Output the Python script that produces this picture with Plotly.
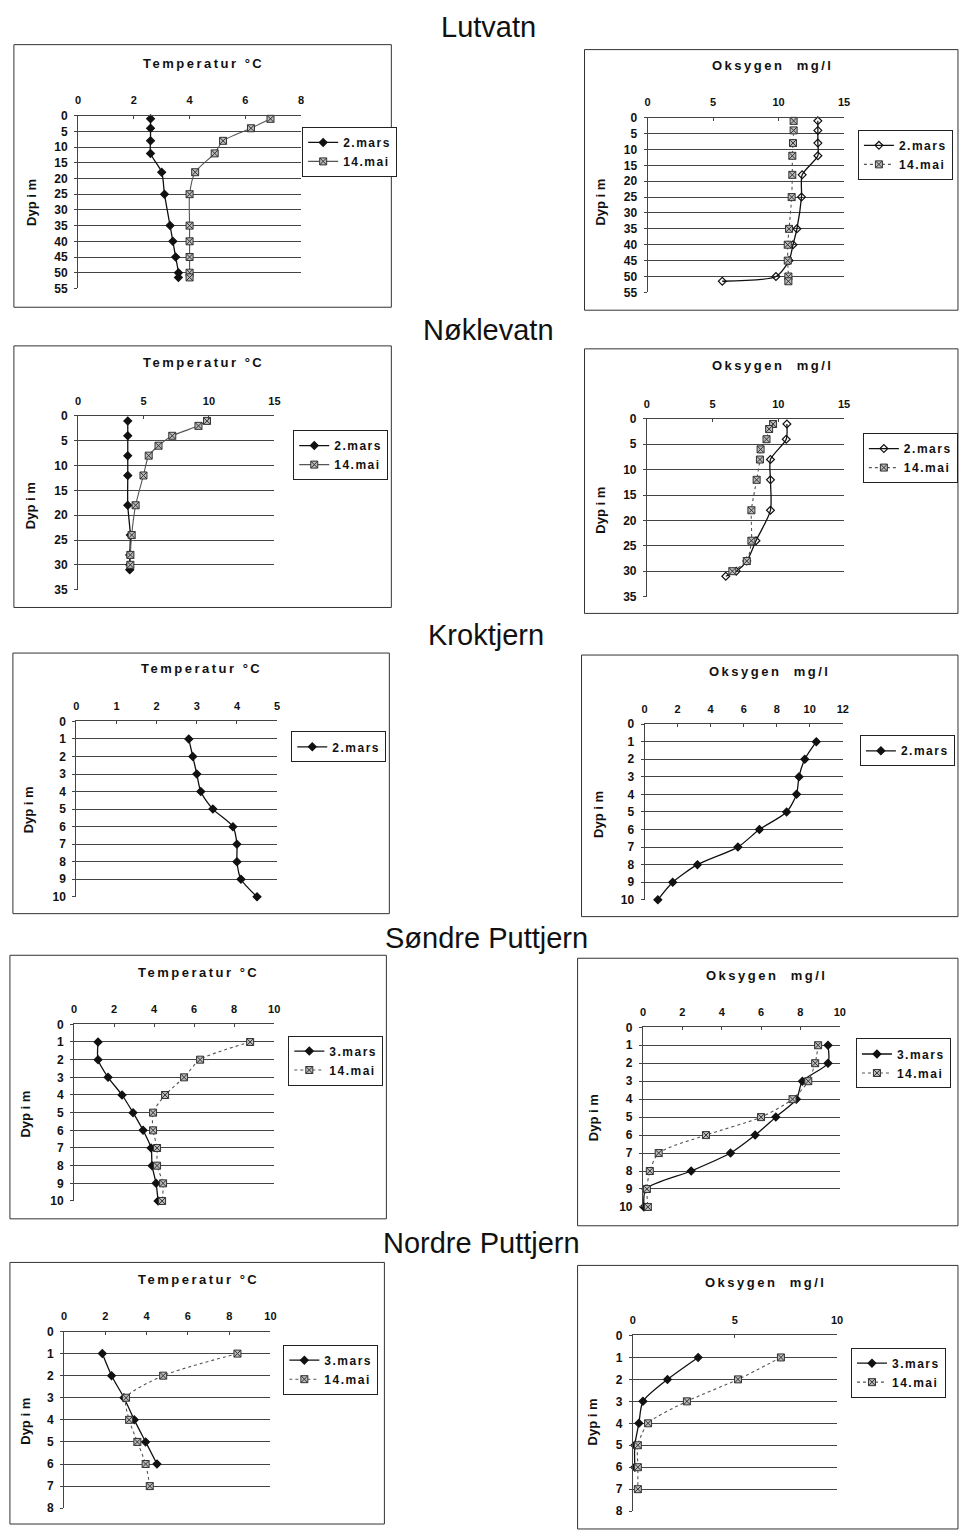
import plotly.graph_objects as go

W, H = 961, 1534

# ---------------- data ----------------
# Lutvatn
lut_depth = [1, 4, 8, 12, 18, 25, 35, 40, 45, 50, 51.5]
lut_temp_mar = [2.6, 2.6, 2.6, 2.6, 3.0, 3.1, 3.3, 3.4, 3.5, 3.6, 3.6]
lut_temp_mai = [6.9, 6.2, 5.2, 4.9, 4.2, 4.0, 4.0, 4.0, 4.0, 4.0, 4.0]
lut_oks_mar = [13.0, 13.0, 13.0, 13.0, 11.8, 11.75, 11.4, 11.1, 10.8, 9.8, 5.7]
lut_oks_mai = [11.15, 11.15, 11.1, 11.05, 11.05, 11.0, 10.8, 10.7, 10.7, 10.75, 10.75]

# Nøklevatn
nok_depth_mar = [1, 4, 8, 12, 18, 24, 28, 30, 31]
nok_depth_mai = [1, 2, 4, 6, 8, 12, 18, 24, 28, 30]
nok_temp_mar = [3.8, 3.8, 3.8, 3.8, 3.8, 4.0, 3.95, 3.95, 3.95]
nok_temp_mai = [9.85, 9.2, 7.2, 6.15, 5.4, 5.0, 4.4, 4.1, 4.0, 4.0]
nok_oks_mar = [10.65, 10.6, 9.4, 9.4, 9.4, 8.3, 7.6, 6.8, 6.0]
nok_oks_mai = [9.6, 9.3, 9.1, 8.65, 8.6, 8.35, 7.95, 7.95, 7.6, 6.5]

# Kroktjern
krok_depth = [1, 2, 3, 4, 5, 6, 7, 8, 9, 10]
krok_temp_mar = [2.8, 2.9, 3.0, 3.1, 3.4, 3.9, 4.0, 4.0, 4.1, 4.5]
krok_oks_mar = [10.4, 9.7, 9.35, 9.2, 8.6, 6.95, 5.65, 3.2, 1.7, 0.8]

# Søndre Puttjern
sond_depth = [1, 2, 3, 4, 5, 6, 7, 8, 9, 10]
sond_temp_mar = [1.2, 1.2, 1.7, 2.4, 2.95, 3.45, 3.85, 3.9, 4.1, 4.2]
sond_temp_mai = [8.8, 6.3, 5.5, 4.55, 3.95, 3.95, 4.15, 4.15, 4.45, 4.4]
sond_oks_mar = [9.4, 9.4, 8.1, 7.8, 6.75, 5.7, 4.45, 2.45, 0.15, 0.05]
sond_oks_mai = [8.9, 8.75, 8.4, 7.6, 6.0, 3.2, 0.8, 0.35, 0.2, 0.25]

# Nordre Puttjern
nord_depth_mar = [1, 2, 3, 4, 5, 6]
nord_depth_mai = [1, 2, 3, 4, 5, 6, 7]
nord_temp_mar = [1.85, 2.3, 2.9, 3.4, 3.95, 4.5]
nord_temp_mai = [8.4, 4.8, 3.0, 3.15, 3.55, 3.95, 4.15]
nord_oks_mar = [3.2, 1.7, 0.5, 0.3, 0.1, 0.1]
nord_oks_mai = [7.25, 5.15, 2.65, 0.75, 0.25, 0.25, 0.25]

section_titles = ["Lutvatn", "Nøklevatn", "Kroktjern", "Søndre Puttjern", "Nordre Puttjern"]
section_title_pos = [(490, 20.5), (490, 326), (488, 634), (488, 940), (483.5, 1247)]

TEMP_TITLE = "Temperatur °C"
OKS_TITLE = "Oksygen  mg/l"
YLABEL = "Dyp i m"

# ---------------- layout of panels (pixels) ----------------
panels = [
    dict(title=TEMP_TITLE, xr=8, xd=2, yr=55, yd=5, plot=(75.7, 109.7, 301, 284), box=(11, 38, 392, 303),
         leg=(302, 121), tpos=(202, 57), ylab=(28, 197), mar_open=False, mai_dash="solid",
         series=[("2.mars", lut_depth, lut_temp_mar), ("14.mai", lut_depth, lut_temp_mai)]),
    dict(title=OKS_TITLE, xr=15, xd=5, yr=55, yd=5, plot=(650.7, 111.7, 849, 288), box=(587, 43, 964, 306),
         leg=(863, 124), tpos=(777, 59), ylab=(603, 197), mar_open=True, mai_dash="dot",
         series=[("2.mars", lut_depth, lut_oks_mar), ("14.mai", lut_depth, lut_oks_mai)]),
    dict(title=TEMP_TITLE, xr=15, xd=5, yr=35, yd=5, plot=(75.7, 412.7, 274, 588), box=(11, 342, 392, 606),
         leg=(293, 427), tpos=(202, 359), ylab=(28, 503), mar_open=False, mai_dash="solid",
         series=[("2.mars", nok_depth_mar, nok_temp_mar), ("14.mai", nok_depth_mai, nok_temp_mai)]),
    dict(title=OKS_TITLE, xr=15, xd=5, yr=35, yd=5, plot=(650, 415.7, 849, 595), box=(587, 345, 964, 612),
         leg=(868, 430), tpos=(777, 362), ylab=(603, 508), mar_open=True, mai_dash="dot",
         series=[("2.mars", nok_depth_mar, nok_oks_mar), ("14.mai", nok_depth_mai, nok_oks_mai)]),
    dict(title=TEMP_TITLE, xr=5, xd=1, yr=10, yd=1, plot=(74, 721, 276.7, 898), box=(10, 652, 390, 915),
         leg=(291, 731), tpos=(200, 668), ylab=(26, 810), mar_open=False, mai_dash="solid",
         series=[("2.mars", krok_depth, krok_temp_mar)]),
    dict(title=OKS_TITLE, xr=12, xd=2, yr=10, yd=1, plot=(647.7, 723.7, 847.7, 901), box=(584, 654, 964, 918),
         leg=(865, 735), tpos=(774, 671), ylab=(601, 815), mar_open=False, mai_dash="dot",
         series=[("2.mars", krok_depth, krok_oks_mar)]),
    dict(title=TEMP_TITLE, xr=10, xd=2, yr=10, yd=1, plot=(71.7, 1026.7, 273.7, 1205), box=(7, 957, 387, 1223),
         leg=(288, 1038), tpos=(197, 974), ylab=(23, 1117), mar_open=False, mai_dash="dot",
         series=[("3.mars", sond_depth, sond_temp_mar), ("14.mai", sond_depth, sond_temp_mai)]),
    dict(title=OKS_TITLE, xr=10, xd=2, yr=10, yd=1, plot=(646, 1029.7, 844.7, 1211), box=(580, 960, 964, 1230),
         leg=(861, 1041), tpos=(771, 977), ylab=(596, 1121), mar_open=False, mai_dash="dot",
         series=[("3.mars", sond_depth, sond_oks_mar), ("14.mai", sond_depth, sond_oks_mai)]),
    dict(title=TEMP_TITLE, xr=10, xd=2, yr=8, yd=1, plot=(61.7, 1336.7, 270, 1515), box=(7, 1267, 385, 1531),
         leg=(283, 1350), tpos=(197, 1284), ylab=(23, 1427), mar_open=False, mai_dash="dot",
         series=[("3.mars", nord_depth_mar, nord_temp_mar), ("14.mai", nord_depth_mai, nord_temp_mai)]),
    dict(title=OKS_TITLE, xr=10, xd=5, yr=8, yd=1, plot=(635.7, 1340.7, 842, 1518), box=(580, 1270, 964, 1536),
         leg=(856, 1353), tpos=(770, 1287), ylab=(596, 1428), mar_open=False, mai_dash="dot",
         series=[("3.mars", nord_depth_mar, nord_oks_mar), ("14.mai", nord_depth_mai, nord_oks_mai)]),
]

FONT = "Liberation Sans, Arial, sans-serif"


def px(x):
    return x / W


def py(y):
    return 1 - y / H


def spaced(text, sp):
    return f'<span style="letter-spacing:{sp}px">{text}</span>'


fig = go.Figure()
layout = dict(
    width=W, height=H, margin=dict(l=0, r=0, t=0, b=0),
    paper_bgcolor="white", plot_bgcolor="white",
    font=dict(family=FONT, color="#111"),
    shapes=[], annotations=[],
)

for i, p in enumerate(panels, start=1):
    sfx = "" if i == 1 else str(i)
    x0, y0, x1, y1 = p["plot"]
    legname = "legend" if i == 1 else f"legend{i}"
    for k, (name, depth, vals) in enumerate(p["series"]):
        if k == 0:
            marker = dict(symbol="diamond-open" if p["mar_open"] else "diamond", size=6,
                          color="#111", line=dict(color="#111", width=1.2))
            line = dict(color="#111", width=1.3, shape="spline", smoothing=0.7)
        else:
            marker = dict(symbol="square-x", size=7, color="#bbbbbb", line=dict(color="#333", width=1))
            line = dict(color="#555", width=1.1, dash=p["mai_dash"], shape="spline", smoothing=0.7)
        fig.add_trace(go.Scatter(
            x=vals, y=depth, mode="lines+markers", name=spaced(name, 1.5),
            xaxis="x" + sfx, yaxis="y" + sfx, legend=legname,
            marker=marker, line=line, cliponaxis=False,
        ))
    layout["xaxis" + sfx] = dict(
        domain=[px(x0), px(x1)], anchor="y" + sfx, side="top",
        range=[0, p["xr"]], dtick=p["xd"], tick0=0,
        showgrid=False, zeroline=False, showline=True, linecolor="#444", linewidth=1,
        ticks="inside", ticklen=3, tickcolor="#444",
        tickfont=dict(size=11, weight="bold", family=FONT), ticklabelstandoff=6,
    )
    layout["yaxis" + sfx] = dict(
        domain=[py(y1), py(y0)], anchor="x" + sfx,
        range=[p["yr"], 0], dtick=p["yd"], tick0=0,
        showgrid=True, gridcolor="#444", gridwidth=1, zeroline=False,
        showline=True, linecolor="#444", linewidth=1,
        ticks="outside", ticklen=3, tickcolor="#444",
        tickfont=dict(size=12, weight="bold", family=FONT), ticklabelstandoff=4,
    )
    layout[legname] = dict(
        x=px(p["leg"][0]), y=py(p["leg"][1]), xanchor="left", yanchor="top",
        bordercolor="#222", borderwidth=1, bgcolor="white",
        font=dict(size=12, weight="bold", family=FONT),
        itemwidth=30, tracegroupgap=0,
    )
    bx0, by0, bx1, by1 = p["box"]
    layout["shapes"].append(dict(
        type="rect", xref="paper", yref="paper",
        x0=px(bx0), x1=px(bx1), y0=py(by1), y1=py(by0),
        line=dict(color="#333", width=1), layer="below",
    ))
    layout["annotations"].append(dict(
        text=spaced(p["title"], 2.5), x=px(p["tpos"][0]), y=py(p["tpos"][1]), xref="paper", yref="paper",
        showarrow=False, xanchor="center", yanchor="middle",
        font=dict(size=13, weight="bold", family=FONT, color="#111"),
    ))
    layout["annotations"].append(dict(
        text=YLABEL, x=px(p["ylab"][0]), y=py(p["ylab"][1]), xref="paper", yref="paper",
        showarrow=False, xanchor="center", yanchor="middle", textangle=-90,
        font=dict(size=13, weight="bold", family=FONT, color="#111"),
    ))

for t, (tx, ty) in zip(section_titles, section_title_pos):
    layout["annotations"].append(dict(
        text=t, x=px(tx), y=py(ty), xref="paper", yref="paper",
        showarrow=False, xanchor="center", yanchor="middle",
        font=dict(size=29, family=FONT, color="#111"),
    ))

fig.update_layout(**layout)
fig.write_html(
    "out.html",
    config={"displayModeBar": False},
    post_script=(
        "document.documentElement.style.margin='0';"
        "document.documentElement.style.overflow='hidden';"
        "document.body.style.margin='0';document.body.style.padding='0';"
        "document.body.style.overflow='hidden';"
    ),
)
